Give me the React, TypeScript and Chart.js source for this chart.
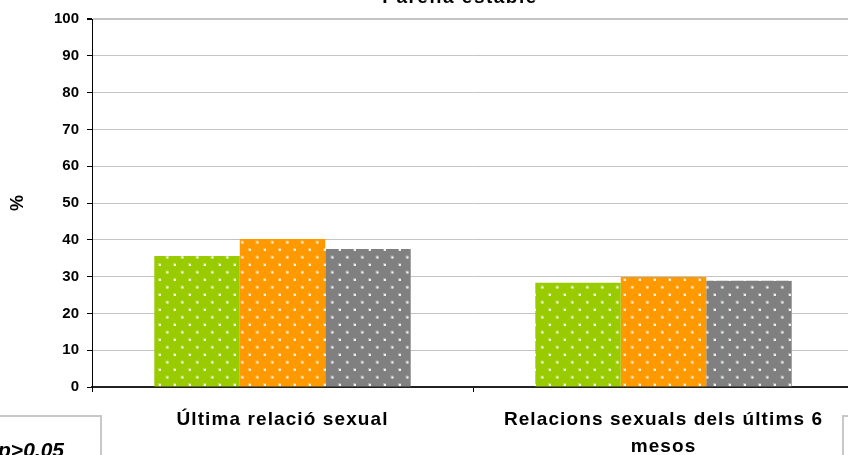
import React, { useEffect, useRef } from 'react';
import { Chart, registerables } from 'chart.js';

Chart.register(...registerables);

// ---- data ----
const categories: string[][] = [
  ['Última relació sexual'],
  ['Relacions sexuals dels últims 6', 'mesos'],
];
const seriesNames = ['Sèrie 1', 'Sèrie 2', 'Sèrie 3'];
const greenValues = [35.6, 28.3];
const orangeValues = [40.2, 29.9];
const grayValues = [37.5, 28.9];
const yMin = 0;
const yMax = 100;
const yStep = 10;
const chartTitle = 'Parella estable';
const yAxisTitle = '%';
const noteText = 'p>0.05';

const FONT = '"Liberation Sans", Arial, sans-serif';

function makePattern(color: string): CanvasPattern | string {
  const c = document.createElement('canvas');
  c.width = 15;
  c.height = 15;
  const g = c.getContext('2d');
  if (!g) return color;
  g.fillStyle = color;
  g.fillRect(0, 0, 15, 15);
  g.fillStyle = 'rgba(255,255,255,0.3)';
  g.fillRect(0.5, 0.5, 3, 3);
  g.fillRect(8, 8, 3, 3);
  g.fillStyle = 'rgba(255,255,255,0.85)';
  g.fillRect(1.5, 1.5, 2, 2);
  g.fillRect(9, 9, 2, 2);
  return g.createPattern(c, 'repeat') || color;
}

function patchSpacing(scale: any, spacing: string) {
  if (scale.__lsPatched) return;
  scale.__lsPatched = true;
  const orig = scale.drawLabels;
  scale.drawLabels = function (ca: any) {
    const ctx = this.ctx;
    ctx.save();
    (ctx as any).letterSpacing = spacing;
    orig.call(this, ca);
    ctx.restore();
  };
}

const decorPlugin = {
  id: 'decor',
  afterDraw(chart: any) {
    const ctx = chart.ctx as CanvasRenderingContext2D;
    ctx.save();
    (ctx as any).letterSpacing = '1.5px';
    ctx.fillStyle = '#000';
    ctx.font = `bold 19px ${FONT}`;
    ctx.textAlign = 'center';
    ctx.textBaseline = 'alphabetic';
    ctx.fillText(chartTitle, 460, 3);

    (ctx as any).letterSpacing = '0px';
    ctx.strokeStyle = '#c8c8c8';
    ctx.lineWidth = 2;
    ctx.strokeRect(-5, 416, 106, 60);
    ctx.strokeRect(843, 416, 60, 60);

    ctx.font = `italic bold 21px ${FONT}`;
    ctx.textAlign = 'right';
    ctx.fillStyle = '#000';
    ctx.fillText(noteText, 64, 457);
    ctx.restore();
  },
};

export default function App() {
  const ref = useRef<HTMLCanvasElement | null>(null);

  useEffect(() => {
    const canvas = ref.current;
    if (!canvas) return;
    const chart = new Chart(canvas, {
      type: 'bar',
      data: {
        labels: categories as any,
        datasets: [
          { label: seriesNames[0], data: greenValues, backgroundColor: makePattern('#99cc00') as any, borderWidth: 0 },
          { label: seriesNames[1], data: orangeValues, backgroundColor: makePattern('#ff9900') as any, borderWidth: 0 },
          { label: seriesNames[2], data: grayValues, backgroundColor: makePattern('#808080') as any, borderWidth: 0 },
        ],
      },
      options: {
        responsive: false,
        animation: false,
        devicePixelRatio: 1,
        layout: { padding: { top: 19, right: 10, left: 0, bottom: 0 } },
        datasets: { bar: { categoryPercentage: 0.673, barPercentage: 1 } },
        plugins: {
          legend: { display: false },
          title: { display: false },
          tooltip: { enabled: false },
        },
        scales: {
          x: {
            offset: true,
            grid: {
              display: true,
              offset: true,
              drawOnChartArea: false,
              drawTicks: true,
              tickLength: 5,
              tickColor: '#000',
              color: '#000',
            },
            border: { display: true, color: '#222', width: 2 },
            ticks: {
              color: '#000',
              font: { family: FONT, size: 19, weight: 'bold', lineHeight: 1.42 },
              padding: 14,
              maxRotation: 0,
              minRotation: 0,
              autoSkip: false,
            },
            afterFit: (scale: any) => {
              scale.height = 68;
              patchSpacing(scale, '1.1px');
            },
          },
          y: {
            min: yMin,
            max: yMax,
            ticks: {
              stepSize: yStep,
              color: '#000',
              font: { family: FONT, size: 15, weight: 'bold' },
              padding: 8,
            },
            grid: {
              color: '#c4c4c4',
              lineWidth: (c: any) => (c.tick && c.tick.value === yMax ? 2 : 1),
              tickColor: '#000',
              tickLength: 5,
              drawTicks: true,
            },
            border: { display: true, color: '#000', width: 1 },
            title: {
              display: true,
              text: yAxisTitle,
              color: '#000',
              font: { family: FONT, size: 18, weight: 'bold' },
              padding: { top: 7, bottom: 0 },
            },
            afterFit: (scale: any) => {
              scale.width = 92;
            },
          },
        },
      },
      plugins: [decorPlugin],
    });
    return () => chart.destroy();
  }, []);

  return (
    <div
      style={{
        position: 'absolute',
        left: 0,
        top: 0,
        width: 848,
        height: 455,
        overflow: 'hidden',
        background: '#fff',
      }}
    >
      <canvas ref={ref} width={864} height={455} style={{ width: 864, height: 455, display: 'block' }} />
    </div>
  );
}
